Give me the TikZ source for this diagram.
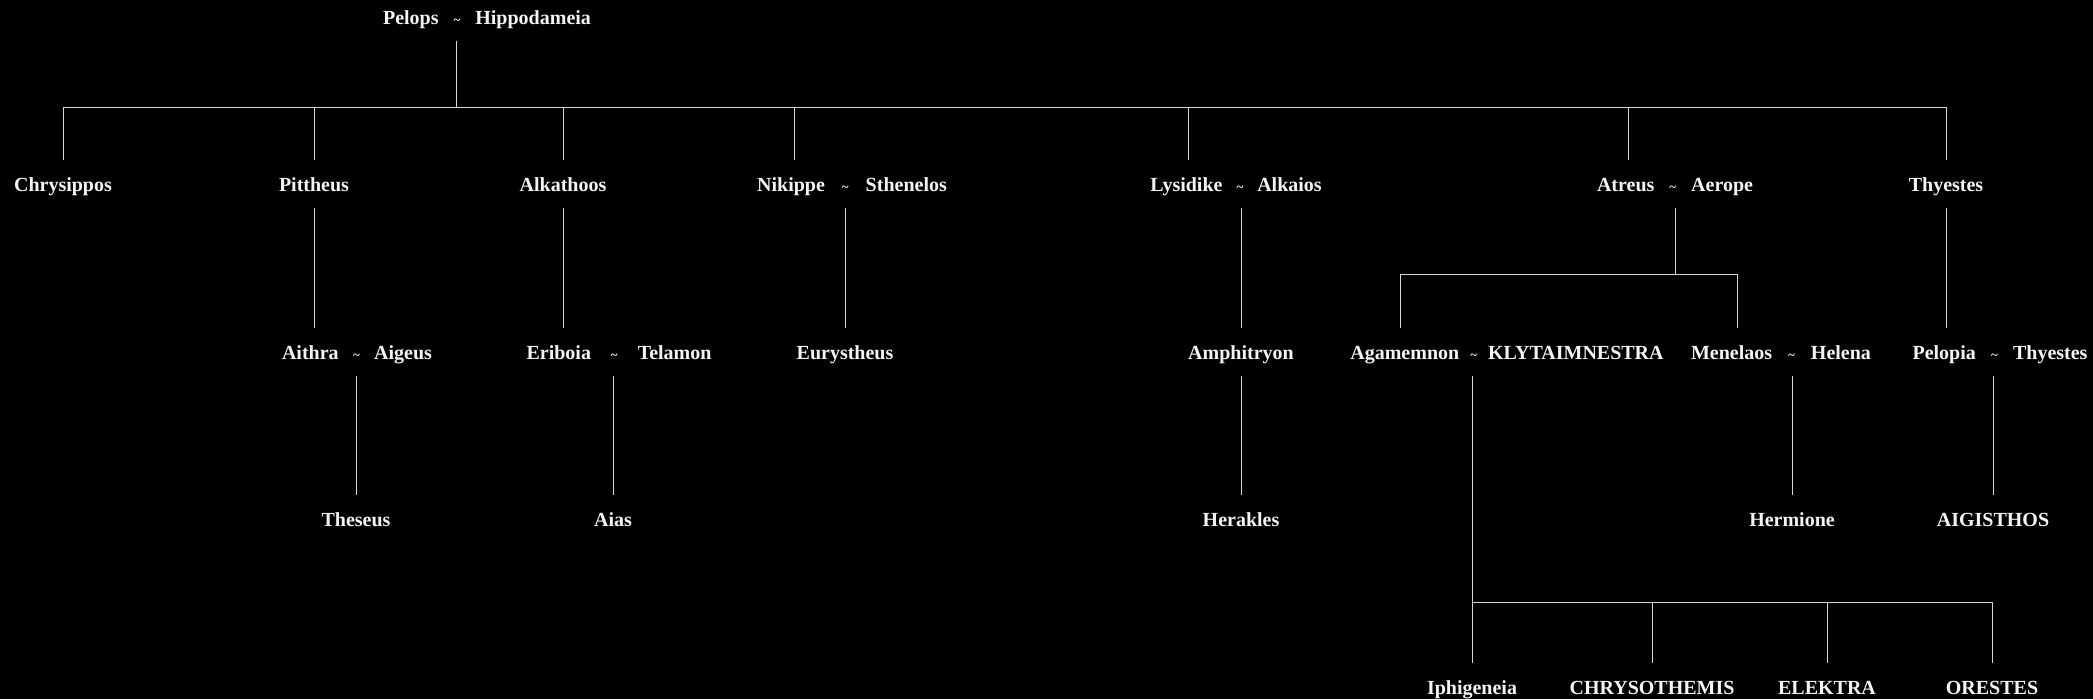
\documentclass[tikz,border=0pt]{standalone}
\usepackage{fontspec}
\setmainfont{Liberation Serif}
\usetikzlibrary{positioning}
\usepackage{xcolor}
\definecolor{nightbg}{HTML}{000000}
\definecolor{linegrey}{HTML}{D4D4D4}
\definecolor{nametext}{HTML}{F4F4F4}

% couple: optional gap, then the two names
\newcommand{\wed}[3][0.6em]{#2\hspace{#1}{\fontsize{13}{13}\selectfont\textasciitilde}\hspace{#1}#3}

\begin{document}
\begin{tikzpicture}[
        x=1pt, y=-1pt,
        person/.style={text=nametext, inner sep=0pt,
          font=\fontsize{20}{24}\selectfont\bfseries,
          text height=16.5pt, text depth=1.5pt, minimum height=47pt},
        link/.style={draw=linegrey, line width=0.9pt},
      ]

      \useasboundingbox (0,0) rectangle (2093,699);
      \fill[nightbg] (0,0) rectangle (2093,699);

      % Generation 0
      \node[person] (pelops) at (487,17) {\wed[0.75em]{Pelops}{Hippodameia}};

      % Generation 1
      \node[person] (chrysippos) at (63,184) {Chrysippos};
      \node[person] (pittheus) at (314,184) {Pittheus};
      \node[person] (alkathoos) at (563,184) {Alkathoos};
      \node[person] (nikippe) at (852,184) {\wed[0.85em]{Nikippe}{Sthenelos}};
      \node[person] (lysidike) at (1236,184) {\wed[0.7em]{Lysidike}{Alkaios}};
      \node[person] (atreus) at (1675,184) {\wed[0.75em]{Atreus}{Aerope}};
      \node[person] (thyestes) at (1946,184) {Thyestes};

      % Generation 2
      \node[person] (aithra) at (357,352) {\wed[0.72em]{Aithra}{Aigeus}};
      \node[person] (eriboia) at (619,352) {\wed[1em]{Eriboia}{Telamon}};
      \node[person] (eurystheus) at (845,352) {Eurystheus};
      \node[person] (amphitryon) at (1241,352) {Amphitryon};
      \node[person] (agamemnon) at (1507,352) {\wed[0.55em]{Agamemnon}{KLYTAIMNESTRA}};
      \node[person] (menelaos) at (1781,352) {\wed[0.8em]{Menelaos}{Helena}};
      \node[person] (pelopia) at (2000,352) {\wed[0.76em]{Pelopia}{Thyestes}};

      % Generation 3
      \node[person] (theseus) at (356,519) {Theseus};
      \node[person] (aias) at (613,519) {Aias};
      \node[person] (herakles) at (1241,519) {Herakles};
      \node[person] (hermione) at (1792,519) {Hermione};
      \node[person] (aigisthos) at (1993,519) {AIGISTHOS};

      % Generation 4
      \node[person] (iphigeneia) at (1472,687) {Iphigeneia};
      \node[person] (chrysothemis) at (1652,687) {CHRYSOTHEMIS};
      \node[person] (elektra) at (1827,687) {ELEKTRA};
      \node[person] (orestes) at (1992,687) {ORESTES};

      % Bars
      \coordinate (pelopsbar) at (0,107);
      \coordinate (atreusbar) at (0,274);
      \coordinate (kidsbar) at (0,602);
      \coordinate (pelopsline) at (456,0);
      \coordinate (nikippeline) at (794,0);
      \coordinate (lysidikeline) at (1188,0);
      \coordinate (atreusline) at (1628,0);
      \coordinate (agamemnonline) at (1400,0);
      \coordinate (menelaosline) at (1737,0);

      % Pelops and his children
      \draw[link] (pelops.south -| pelopsline) -- (pelopsline |- pelopsbar);
      \draw[link] (chrysippos |- pelopsbar) -- (thyestes |- pelopsbar);
      \draw[link] (chrysippos |- pelopsbar) -- (chrysippos.north);
      \draw[link] (pittheus |- pelopsbar) -- (pittheus.north);
      \draw[link] (alkathoos |- pelopsbar) -- (alkathoos.north);
      \draw[link] (nikippeline |- pelopsbar) -- (nikippeline |- nikippe.north);
      \draw[link] (lysidikeline |- pelopsbar) -- (lysidikeline |- lysidike.north);
      \draw[link] (atreusline |- pelopsbar) -- (atreusline |- atreus.north);
      \draw[link] (thyestes |- pelopsbar) -- (thyestes.north);

      % Generation 1 to 2
      \draw[link] (pittheus.south) -- (pittheus.south |- aithra.north);
      \draw[link] (alkathoos.south) -- (alkathoos.south |- eriboia.north);
      \draw[link] (eurystheus.north |- nikippe.south) -- (eurystheus.north);
      \draw[link] (amphitryon.north |- lysidike.south) -- (amphitryon.north);
      \draw[link] (atreus.south) -- (atreus |- atreusbar);
      \draw[link] (agamemnonline |- atreusbar) -- (menelaosline |- atreusbar);
      \draw[link] (agamemnonline |- atreusbar) -- (agamemnonline |- agamemnon.north);
      \draw[link] (menelaosline |- atreusbar) -- (menelaosline |- menelaos.north);
      \draw[link] (thyestes.south) -- (thyestes.south |- pelopia.north);

      % Generation 2 to 3
      \draw[link] (theseus.north |- aithra.south) -- (theseus.north);
      \draw[link] (aias.north |- eriboia.south) -- (aias.north);
      \draw[link] (herakles.north |- amphitryon.south) -- (herakles.north);
      \draw[link] (hermione.north |- menelaos.south) -- (hermione.north);
      \draw[link] (aigisthos.north |- pelopia.south) -- (aigisthos.north);

      % Agamemnon and Klytaimnestra's children
      \draw[link] (iphigeneia.north |- agamemnon.south) -- (iphigeneia.north);
      \draw[link] (iphigeneia |- kidsbar) -- (orestes |- kidsbar);
      \draw[link] (chrysothemis |- kidsbar) -- (chrysothemis.north);
      \draw[link] (elektra |- kidsbar) -- (elektra.north);
      \draw[link] (orestes |- kidsbar) -- (orestes.north);

      \end{tikzpicture}
\end{document}
